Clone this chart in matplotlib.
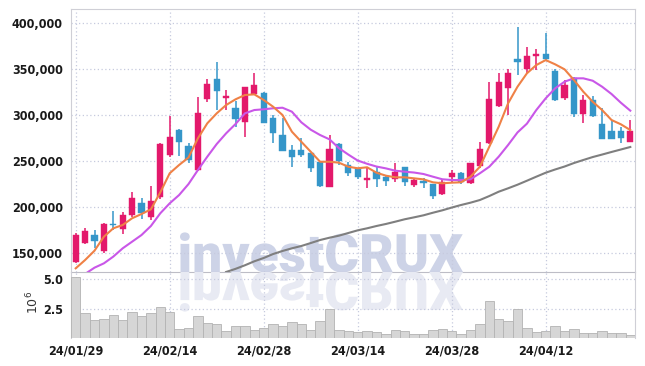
import numpy as np
import matplotlib
matplotlib.use('Agg')
import matplotlib.pyplot as plt
from matplotlib import font_manager as fm
from matplotlib.textpath import TextPath
from matplotlib.patches import PathPatch
from matplotlib.transforms import Affine2D, IdentityTransform

# ---------------- data ----------------
dates = ["24/01/29", "24/01/30", "24/01/31", "24/02/01", "24/02/02", "24/02/05", "24/02/06",
         "24/02/07", "24/02/08", "24/02/13", "24/02/14", "24/02/15", "24/02/16", "24/02/19",
         "24/02/20", "24/02/21", "24/02/22", "24/02/23", "24/02/26", "24/02/27", "24/02/28",
         "24/02/29", "24/03/04", "24/03/05", "24/03/06", "24/03/07", "24/03/08", "24/03/11",
         "24/03/12", "24/03/13", "24/03/14", "24/03/15", "24/03/18", "24/03/19", "24/03/20",
         "24/03/21", "24/03/22", "24/03/25", "24/03/26", "24/03/27", "24/03/28", "24/03/29",
         "24/04/01", "24/04/02", "24/04/03", "24/04/04", "24/04/05", "24/04/08", "24/04/09",
         "24/04/11", "24/04/12", "24/04/15", "24/04/16", "24/04/17", "24/04/18", "24/04/19",
         "24/04/22", "24/04/23", "24/04/24", "24/04/25"]

opens = [140800, 161400, 169700, 152700, 181700, 176200, 191800, 204100, 188900, 211300,
         256500, 283600, 266300, 240200, 317200, 338600, 318700, 307200, 292600, 322300,
         323400, 296300, 278200, 261900, 261900, 258400, 249200, 222100, 268400, 245700,
         242100, 229400, 238400, 233000, 230500, 243800, 224000, 228300, 225100, 214200,
         232300, 236700, 225800, 244900, 269800, 310000, 329500, 360600, 349500, 363900,
         366100, 347600, 318000, 339700, 301000, 316200, 290100, 282500, 282500, 270900]
highs = [171600, 177000, 175200, 182400, 196100, 194400, 216700, 209500, 222900, 269500,
         298800, 284700, 269200, 319100, 338600, 357700, 327000, 315400, 330600, 345800,
         325200, 299900, 296300, 267400, 275000, 258500, 249500, 278200, 269200, 249200,
         242300, 243800, 243800, 234800, 247500, 244000, 230200, 231200, 225100, 230200,
         240200, 238400, 248000, 270300, 335400, 345100, 349500, 395000, 374000, 371200,
         389200, 349500, 337900, 341400, 321600, 320500, 307200, 294500, 287200, 294500]
lows = [139000, 160000, 155300, 150500, 175200, 170500, 189600, 186800, 186000, 209000,
        254000, 255400, 247800, 239000, 314300, 305300, 305300, 286600, 275700, 321600,
        291200, 269800, 261000, 243200, 254000, 238400, 221500, 221500, 245700, 233700,
        230200, 220400, 222100, 223200, 227500, 223200, 222100, 220400, 208800, 213100,
        226500, 224700, 225100, 242100, 268400, 308900, 299900, 343300, 345100, 348700,
        359000, 315400, 316200, 298000, 290900, 298000, 273500, 273500, 269200, 270700]
closes = [169700, 174100, 163600, 181700, 180600, 191400, 209900, 193900, 206600, 268400,
          275700, 270900, 251100, 301700, 333500, 326200, 320800, 295200, 329900, 332400,
          291500, 280700, 261200, 254000, 256500, 242700, 223200, 262700, 250300, 237300,
          232300, 231900, 230500, 228600, 238400, 226900, 229400, 226500, 212400, 226900,
          237300, 227500, 247500, 263000, 317200, 335400, 345800, 357700, 363900, 366100,
          360600, 316200, 332400, 300700, 316200, 299100, 273900, 273900, 275300, 282500]

ma_short = [133600, 142600, 152700, 167900, 177000, 180600, 187900, 192500, 197600, 216000,
            236700, 245700, 253800, 274600, 290900, 301700, 310700, 316900, 321600, 322300,
            316200, 308900, 299900, 281800, 270900, 260100, 249200, 249200, 248200, 243800,
            242100, 243200, 237300, 234100, 232300, 232300, 231200, 230100, 226900, 225800,
            226500, 226900, 233000, 243800, 265500, 287200, 312600, 330600, 345100, 354100,
            359500, 354900, 349500, 337900, 325200, 314300, 305300, 294500, 289800, 283600]
ma_mid = [121000, 127500, 134300, 139000, 146300, 155300, 162500, 169700, 179500, 193300,
          204100, 213100, 225000, 240200, 254700, 268400, 280000, 290100, 301700, 305300,
          306100, 307200, 307800, 303500, 292000, 284000, 278200, 273500, 264000, 257000,
          250500, 247000, 244000, 242000, 239500, 238400, 237500, 235900, 233000, 230200,
          229400, 229400, 230200, 236700, 243800, 254700, 267400, 281000, 290500, 305300,
          318000, 328800, 336000, 339700, 339700, 337100, 330600, 322700, 313200, 304600]
ma_long = [np.nan] * 16 + [
          129600, 133000, 136900, 141200, 144800, 149100, 152400, 155300, 157800, 161000,
          164300, 166800, 169000, 171900, 174800, 177000, 179500, 181700, 184200, 186800,
          188900, 191100, 193900, 196500, 199500, 202300, 204800, 207700, 212000, 216700,
          220400, 224300, 228600, 233000, 237300, 240800, 244000, 247800, 251100, 254300,
          257000, 259800, 262500, 265200]

volume_m = [5.17, 2.10, 1.49, 1.58, 1.93, 1.49, 2.18, 1.84, 2.10, 2.62, 2.18, 0.80, 0.89, 1.84,
            1.26, 1.15, 0.57, 0.98, 0.98, 0.72, 0.89, 1.15, 1.06, 1.32, 1.15, 0.72, 1.41, 2.44,
            0.72, 0.57, 0.49, 0.57, 0.49, 0.32, 0.72, 0.57, 0.32, 0.32, 0.72, 0.80, 0.57, 0.32,
            0.72, 1.15, 3.13, 1.58, 1.41, 2.47, 0.89, 0.49, 0.63, 0.98, 0.57, 0.80, 0.40, 0.40,
            0.63, 0.40, 0.40, 0.29]

price_ticks = [150000, 200000, 250000, 300000, 350000, 400000]
vol_ticks = [2.5, 5.0]
date_tick_idx = [0, 10, 20, 30, 40, 50]

# ---------------- styling ----------------
UP = '#e3196b'
DOWN = '#3596c9'
GRID = '#c6cade'
SPINE = '#cfcfd6'

names = {f.name for f in fm.fontManager.ttflist}
tick_fp = None
if 'Liberation Sans Narrow' in names:
    tick_fp = fm.FontProperties(family='Liberation Sans Narrow', weight='bold', size=10)
else:
    cands = [f for f in fm.fontManager.ttflist
             if 'DejaVuSansCondensed-Bold.ttf' in f.fname]
    if cands:
        tick_fp = fm.FontProperties(fname=cands[0].fname, size=9)
    else:
        tick_fp = fm.FontProperties(family='DejaVu Sans', size=9)

W, H = 645, 366
fig = plt.figure(figsize=(W / 100, H / 100), dpi=100)
fig.patch.set_facecolor('white')
L, R = 71, 635
ax = fig.add_axes([L / W, 1 - 272 / H, (R - L) / W, (272 - 9) / H])
axv = fig.add_axes([L / W, 1 - 338 / H, (R - L) / W, (338 - 272) / H], sharex=ax)

x = np.arange(len(dates))

# watermark
wm_fp = fm.FontProperties(family='Roboto', weight='heavy')
tp = TextPath((0, 0), 'investCRUX', size=100, prop=wm_fp)
ext = tp.get_extents()
s = 283 / ext.width
x0 = 180 - ext.x0 * s
y0 = H - 272
p1 = Affine2D().scale(s, s).translate(x0, y0).transform_path(tp)
p2 = Affine2D().scale(s, -s).translate(x0, y0).transform_path(tp)
ax.add_artist(PathPatch(p1, transform=IdentityTransform(), facecolor='#cdd3e7',
                        edgecolor='none', zorder=0.5))
axv.add_artist(PathPatch(p2, transform=IdentityTransform(), facecolor='#e8eaf3',
                         edgecolor='none', zorder=0.5))

# candles
for i in x:
    o, h, l, c = opens[i], highs[i], lows[i], closes[i]
    col = UP if c >= o else DOWN
    ax.vlines(i, l, h, color=col, lw=1.1, zorder=3)
    bot = min(o, c)
    hgt = max(abs(c - o), 1800)
    if abs(c - o) < 1800:
        bot = (o + c) / 2 - 900
    ax.bar(i, hgt, bottom=bot, width=0.68, color=col, edgecolor=col, lw=0.3, zorder=4)

ax.plot(x, ma_long, color='#7f7f7f', lw=1.5, zorder=5)
ax.plot(x, ma_mid, color='#c957e8', lw=1.5, zorder=5)
ax.plot(x, ma_short, color='#ef8146', lw=1.5, zorder=5)

ax.set_xlim(-0.5, 59.5)
ax.set_ylim(129600, 414900)
ax.set_yticks(price_ticks)
ax.set_yticklabels([f'{v:,}' for v in price_ticks])
ax.grid(True, color=GRID, linestyle=(0, (1, 2)), lw=0.9)
ax.set_axisbelow(True)
ax.tick_params(axis='both', length=0, pad=6, labelcolor='#1a1a1a')
ax.tick_params(axis='x', labelbottom=False)
for sp in ax.spines.values():
    sp.set_color(SPINE)
ax.spines['bottom'].set_color('#bdbdc6')
ax.set_facecolor('none')

# volume
axv.bar(x, volume_m, width=1.0, color='#d6d6d6', edgecolor='#b3b3b3', lw=0.6, zorder=3)
axv.set_ylim(0, 5.6)
axv.set_yticks(vol_ticks)
axv.set_yticklabels(['2.5', '5.0'])
axv.set_xticks(date_tick_idx)
axv.set_xticklabels([dates[i] for i in date_tick_idx])
axv.grid(True, color=GRID, linestyle=(0, (1, 2)), lw=0.9)
axv.set_axisbelow(True)
axv.tick_params(axis='both', length=0, pad=6, labelcolor='#1a1a1a')
axv.tick_params(axis='x', pad=5)
for sp in axv.spines.values():
    sp.set_color(SPINE)
axv.spines['top'].set_visible(False)
axv.spines['bottom'].set_visible(False)
axv.set_facecolor('none')

for lbl in ax.get_yticklabels() + axv.get_yticklabels() + axv.get_xticklabels():
    lbl.set_fontproperties(tick_fp)

fig.text(33 / W, 1 - 302 / H, r'$10^{6}$', rotation=90, fontsize=9, color='#333333',
         ha='center', va='center')

fig.savefig('out.png', dpi=100, facecolor='white')
